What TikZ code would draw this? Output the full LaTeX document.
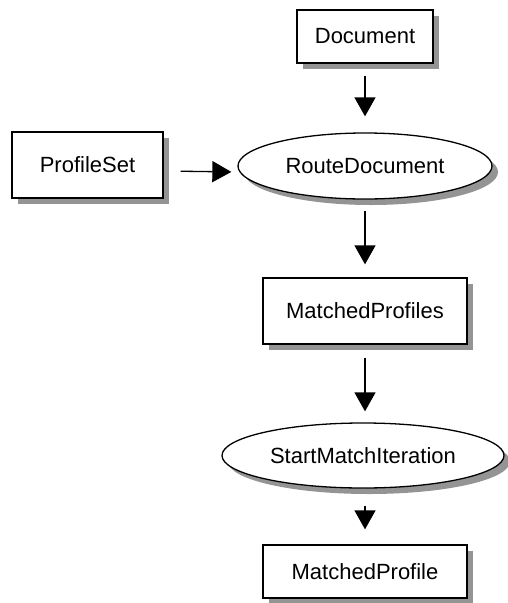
\documentclass[tikz,border=0pt]{standalone}
\usepackage{fontspec}
\setmainfont{Liberation Sans}
\usetikzlibrary{shapes.geometric,shadows,arrows.meta}

\begin{document}
\begin{tikzpicture}[x=1pt,y=-1pt,
  every node/.style={font=\fontsize{22}{26}\selectfont, inner sep=0pt},
  shade3d/.style={drop shadow={shadow xshift=6pt, shadow yshift=-6pt, fill=black!42, opacity=1}},
  entity/.style={draw, line width=1.3pt, fill=white, rectangle, shade3d},
  process/.style={draw, line width=1.3pt, fill=white, ellipse, shade3d},
  flow/.style={line width=1.3pt, -{Triangle[length=19pt,width=21pt]}}
]
\useasboundingbox (0,0) rectangle (507,603);

% data items and processing steps
\node[entity, minimum width=136pt, minimum height=53pt] (doc) at (365,36.5) {Document};
\node[entity, minimum width=151pt, minimum height=66pt] (ps) at (87.5,165) {ProfileSet};
\node[process, minimum width=254pt, minimum height=66pt] (rd) at (365,166) {RouteDocument};
\node[entity, minimum width=204pt, minimum height=66pt] (mps) at (365,311) {MatchedProfiles};
\node[process, minimum width=282pt, minimum height=65pt] (smi) at (363,455.5) {StartMatchIteration};
\node[entity, minimum width=204pt, minimum height=53pt] (mp) at (365,571.5) {MatchedProfile};

% flow between them
\draw[flow, shorten <=12pt, shorten >=16pt] (doc.south) -- (rd.north);
\draw[flow, shorten <=17pt, shorten >=6pt] ([yshift=-6pt]ps.east) -- ([yshift=-6pt]rd.west);
\draw[flow, shorten <=11pt, shorten >=13pt] (rd.south) -- (mps.north);
\draw[flow, shorten <=13pt, shorten >=11pt] (mps.south) -- (mps.south |- smi.north);
\draw[flow, shorten <=17pt, shorten >=15pt] (mp.north |- smi.south) -- (mp.north);
\end{tikzpicture}
\end{document}
